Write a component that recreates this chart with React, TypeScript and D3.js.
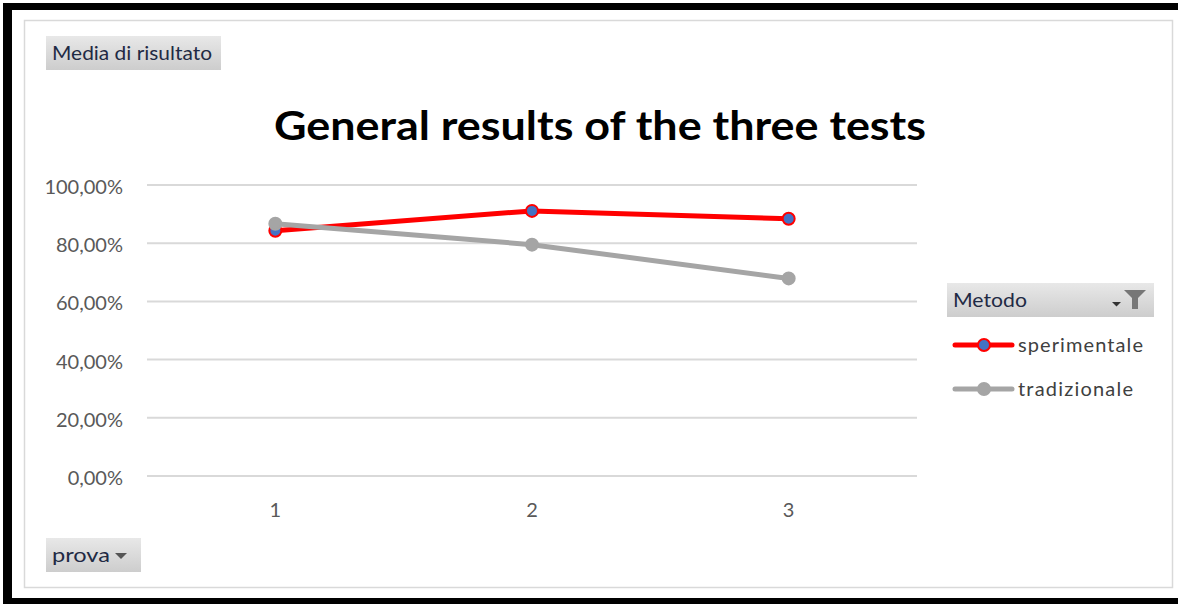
import React from 'react';
import * as d3 from 'd3';

const categories = ['1', '2', '3'];
const sperimentale = [0.843, 0.911, 0.884];
const tradizionale = [0.867, 0.795, 0.679];
const yTicks = [0, 0.2, 0.4, 0.6, 0.8, 1];
const seriesNames = ['sperimentale', 'tradizionale'];

const W = 1178;
const H = 604;
const font = 'Lato, "Open Sans", sans-serif';

const fmt = (v: number) => (v * 100).toFixed(2).replace('.', ',') + '%';

const Button = ({ id, x, y, w, h, label, labelW, arrow, filter }: any) => (
  <g transform={`translate(${x},${y})`}>
    <defs>
      <linearGradient id={id} x1="0" y1="0" x2="0" y2="1">
        <stop offset="0" stopColor="#e8e8e8" />
        <stop offset="1" stopColor="#cdcdcd" />
      </linearGradient>
    </defs>
    <rect width={w} height={h} fill={`url(#${id})`} />
    <text x={6} y={h / 2 + 7} fontSize={20} fill="#1f2a44" fontFamily={font}
      textLength={labelW} lengthAdjust="spacingAndGlyphs">{label}</text>
    {arrow && <path d={`M${w - 26},${h / 2 - 2} l12,0 l-6,6 z`} fill="#555" />}
    {filter && (
      <g>
        <path d={`M${w - 42},${h / 2 + 2} l9,0 l-4.5,4.5 z`} fill="#333" />
        <path d={`M${w - 30},${h / 2 - 10} l22,0 l-8,8 l0,11 l-6,0 l0,-11 z`} fill="#777" />
      </g>
    )}
  </g>
);

export default function App() {
  const x = d3.scalePoint<string>().domain(categories).range([147, 917]).padding(0.5);
  const y = d3.scaleLinear().domain([0, 1]).range([476, 185]);
  const line = d3.line<number>()
    .x((_, i) => x(categories[i]) as number)
    .y((d) => y(d));

  const series = [
    { name: seriesNames[0], values: sperimentale, stroke: '#ff0000', fill: '#4472c4', w: 125 },
    { name: seriesNames[1], values: tradizionale, stroke: '#a5a5a5', fill: '#a5a5a5', w: 115 },
  ];

  return (
    <svg width={W} height={H} style={{ position: 'absolute', left: 0, top: 0, background: '#fff' }}>
      <rect x={0} y={0} width={W} height={H} fill="#fff" />
      {/* outer dark frame */}
      <rect x={3} y={3} width={W} height={7} fill="#000" />
      <rect x={3} y={3} width={9} height={H} fill="#000" />
      <rect x={3} y={598} width={W} height={6} fill="#000" />
      <rect x={24.5} y={20.5} width={1148} height={567} fill="#fff" stroke="#d9d9d9" strokeWidth={1.5} />

      <Button id="btnMedia" x={46} y={36} w={175} h={34} label="Media di risultato" labelW={160} />
      <Button id="btnProva" x={46} y={538} w={95} h={34} label="prova" labelW={58} arrow />

      <text x={600} y={140} textAnchor="middle" fontSize={40} fontWeight="bold" fontFamily={font} fill="#000"
        textLength={652} lengthAdjust="spacingAndGlyphs">
        General results of the three tests
      </text>

      {yTicks.map((t) => (
        <g key={t}>
          <line x1={147} x2={917} y1={y(t)} y2={y(t)} stroke="#d9d9d9" strokeWidth={2} />
          <text x={123} y={y(t) + 9} textAnchor="end" fontSize={20} fill="#595959" fontFamily={font}>{fmt(t)}</text>
        </g>
      ))}
      {categories.map((c) => (
        <text key={c} x={x(c)} y={517} textAnchor="middle" fontSize={20} fill="#595959" fontFamily={font}>{c}</text>
      ))}

      {series.map((s) => (
        <g key={s.name}>
          <path d={line(s.values) as string} fill="none" stroke={s.stroke} strokeWidth={5} strokeLinejoin="round" />
          {s.values.map((v, i) => (
            <circle key={i} cx={x(categories[i])} cy={y(v)} r={6} fill={s.fill} stroke={s.stroke} strokeWidth={2} />
          ))}
        </g>
      ))}

      <Button id="btnMetodo" x={947} y={283} w={207} h={34} label="Metodo" labelW={74} filter />
      {series.map((s, i) => (
        <g key={s.name} transform={`translate(955,${345 + i * 44})`}>
          <line x1={0} x2={57} y1={0} y2={0} stroke={s.stroke} strokeWidth={5} strokeLinecap="round" />
          <circle cx={29} cy={0} r={6} fill={s.fill} stroke={s.stroke} strokeWidth={2} />
          <text x={63} y={7} fontSize={20} fill="#404040" fontFamily={font}
            textLength={s.w} lengthAdjust="spacing">{s.name}</text>
        </g>
      ))}
    </svg>
  );
}
